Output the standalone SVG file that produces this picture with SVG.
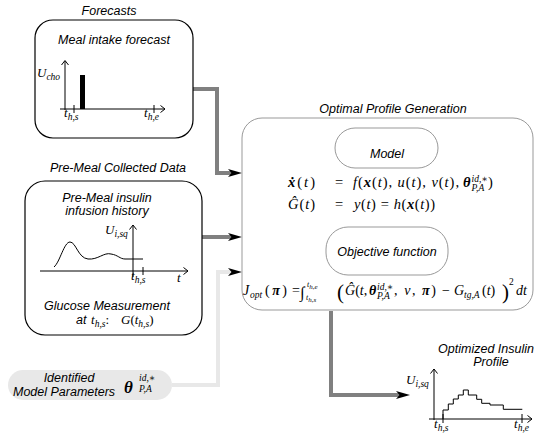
<svg xmlns="http://www.w3.org/2000/svg" width="548" height="441" viewBox="0 0 548 441">
<style>
.lb{font-family:"Liberation Sans",Arial,sans-serif;font-style:italic;font-size:12.5px;fill:#000}
.m{font-family:"Liberation Serif","DejaVu Serif",serif;font-style:italic;font-size:14.5px;fill:#000}
.j{font-size:14px}
.c{font-size:13px}
.r{font-style:normal}
.b{font-weight:bold}
.s{font-size:9.5px}
.ss{font-size:7px}
.box{fill:#fff;stroke:#000;stroke-width:1.2}
.gbox{fill:#fff;stroke:#999;stroke-width:1}
.ax{fill:none;stroke:#000;stroke-width:1}
.conn{fill:none;stroke:#808080;stroke-width:4}
</style>
<defs>
<marker id="ah" markerUnits="userSpaceOnUse" viewBox="0 0 14 8" refX="4" refY="4" markerWidth="14" markerHeight="8" orient="auto">
<path d="M0,0 L14,4 L0,8 L3.5,4 z" fill="#000"/>
</marker>
</defs>
<rect width="548" height="441" fill="#fff"/>

<g id="connectors">
<path class="conn" d="M193,89 H217 V173 H232" marker-end="url(#ah)"/>
<path class="conn" d="M202,237 H232" marker-end="url(#ah)"/>
<path d="M172,385 H218 V272 H232" fill="none" stroke="#e8e8e8" stroke-width="4" marker-end="url(#ah)"/>
<path class="conn" d="M331,311 V395 H400" marker-end="url(#ah)"/>
</g>

<g id="forecasts">
<text class="lb" x="109" y="15" text-anchor="middle">Forecasts</text>
<rect class="box" x="35" y="20" width="158" height="118" rx="18"/>
<text class="lb" x="114" y="44" text-anchor="middle">Meal intake forecast</text>
<path class="ax" d="M65,61 V110 M60,109 H165 M61.5,65 L65,60.5 L68.5,65 M160.5,105.5 L165,109 L160.5,112.5 M74,105 V113 M154,105 V113"/>
<rect x="80" y="75" width="5" height="34" fill="#000"/>
<text class="m c" x="37" y="77">U<tspan class="s" dy="2.5">cho</tspan></text>
<text class="m c" x="64" y="117">t<tspan class="s" dy="2.5">h,s</tspan></text>
<text class="m c" x="144" y="117">t<tspan class="s" dy="2.5">h,e</tspan></text>
</g>

<g id="premeal">
<text class="lb" x="118" y="172" text-anchor="middle">Pre-Meal Collected Data</text>
<rect class="box" x="25" y="181" width="177" height="154" rx="20"/>
<text class="lb" x="107" y="202" text-anchor="middle">Pre-Meal insulin</text>
<text class="lb" x="107" y="215" text-anchor="middle">infusion history</text>
<path class="ax" d="M133,225 V277 M40,271 H188 M129.5,229.5 L133,225 L136.5,229.5 M183.5,267.5 L188,271 L183.5,274.5 M143,267 V275"/>
<path class="ax" d="M54,267 C60,262 64,242 70,242 C76,242 78,258 88,259 C98,260 104,252 111,254 C118,255 120,259 125,259 L143,259"/>
<text class="m c" x="105" y="234">U<tspan class="s" dy="2.5">i,sq</tspan></text>
<text class="m c" x="131" y="280">t<tspan class="s" dy="2.5">h,s</tspan></text>
<text class="m c" x="177" y="282">t</text>
<text class="lb" x="107" y="310" text-anchor="middle">Glucose Measurement</text>
<text class="lb" x="76" y="324">at</text>
<text class="m c" x="91" y="324">t<tspan class="s" dy="2.5">h,s</tspan><tspan dy="-2.5" class="r">:</tspan></text>
<text class="m c" x="121" y="324">G<tspan class="r">(</tspan>t<tspan class="s" dy="2.5">h,s</tspan><tspan dy="-2.5" class="r">)</tspan></text>
</g>

<g id="params">
<rect x="8" y="370" width="164" height="30" rx="15" fill="#e8e8e8"/>
<text class="lb" x="69" y="382" text-anchor="middle">Identified</text>
<text class="lb" x="13" y="396">Model Parameters</text>
<text class="m b" x="124" y="393" style="font-size:17px">θ</text>
<text class="m s" x="139" y="381">id,∗</text>
<text class="m s" x="139" y="392">P,A</text>
</g>

<g id="optimal">
<text class="lb" x="393" y="113" text-anchor="middle">Optimal Profile Generation</text>
<rect class="gbox" x="242" y="118" width="291" height="192" rx="20"/>
</g>

<g id="model">
<rect class="gbox" x="335" y="128" width="103" height="40" rx="20" stroke="#777"/>
<text class="lb" x="387" y="158" text-anchor="middle">Model</text>
</g>

<g id="equations">
<text class="m" x="288" y="187" textLength="27"><tspan class="b">ẋ</tspan><tspan class="r">(</tspan>t<tspan class="r">)</tspan></text>
<text class="m r" x="335" y="187">=</text>
<text class="m" x="353" y="187" textLength="106" lengthAdjust="spacing">f<tspan class="r">(</tspan><tspan class="b">x</tspan><tspan class="r">(</tspan>t<tspan class="r">), </tspan>u<tspan class="r">(</tspan>t<tspan class="r">), </tspan>v<tspan class="r">(</tspan>t<tspan class="r">),</tspan></text>
<text class="m b" x="463" y="187">θ</text>
<text class="m s" x="471.5" y="181.5">id,∗</text>
<text class="m s" x="471.5" y="191">P,A</text>
<text class="m r" x="488" y="187">)</text>

<text class="m" x="288" y="209" textLength="27">Ĝ<tspan class="r">(</tspan>t<tspan class="r">)</tspan></text>
<text class="m r" x="335" y="209">=</text>
<text class="m" x="354" y="209" textLength="81" lengthAdjust="spacing">y<tspan class="r">(</tspan>t<tspan class="r">) = </tspan>h<tspan class="r">(</tspan><tspan class="b">x</tspan><tspan class="r">(</tspan>t<tspan class="r">))</tspan></text>
</g>

<g id="objective">
<rect class="gbox" x="326" y="227" width="122" height="48" rx="22" stroke="#777"/>
<text class="lb" x="387" y="256" text-anchor="middle">Objective function</text>
<text class="m j" x="243" y="295">J</text>
<text class="m s" x="250" y="298">opt</text>
<text class="m j" x="265" y="295" textLength="22"><tspan class="r">(</tspan><tspan class="b">π</tspan><tspan class="r">)</tspan></text>
<text class="m r j" x="292" y="295">=</text>
<text class="m r" x="300" y="298" style="font-size:16px">∫</text>
<text class="m" x="307" y="287" style="font-size:8px">t<tspan class="ss" dy="1.5">h,e</tspan></text>
<text class="m" x="306" y="300" style="font-size:8px">t<tspan class="ss" dy="1.5">h,s</tspan></text>
<text class="m r" x="337" y="299" style="font-size:21px">(</text>
<text class="m j" x="345" y="295">Ĝ<tspan class="r">(</tspan>t<tspan class="r">,</tspan></text>
<text class="m b j" x="369" y="295">θ</text>
<text class="m s" x="377" y="289.5">id,∗</text>
<text class="m s" x="377" y="299">P,A</text>
<text class="m j" x="394" y="295" textLength="42" lengthAdjust="spacing"><tspan class="r">, </tspan>v<tspan class="r">, </tspan><tspan class="b">π</tspan><tspan class="r">)</tspan></text>
<text class="m r j" x="442" y="295">−</text>
<text class="m j" x="454" y="295">G</text>
<text class="m s" x="464" y="298">tg,A</text>
<text class="m j" x="482" y="295"><tspan class="r">(</tspan>t<tspan class="r">)</tspan></text>
<text class="m r" x="502" y="299" style="font-size:21px">)</text>
<text class="m r s" x="509" y="285">2</text>
<text class="m j" x="516" y="295">dt</text>
</g>

<g id="output">
<text class="lb" x="486" y="353" text-anchor="middle">Optimized Insulin</text>
<text class="lb" x="491" y="366" text-anchor="middle">Profile</text>
<path d="M434,369 V420" fill="none" stroke="#555" stroke-width="1.5"/>
<path class="ax" d="M430.5,373.5 L434,369 L437.5,373.5 M429,419 H532 M527.5,415.5 L532,419 L527.5,422.5 M443,414 V423 M522,414 V423"/>
<path class="ax" d="M443,419 V410 H448.3 V404 H453.3 V399 H458.3 V395 H463.3 V390 H468.3 V395 H476.7 V399.3 H481.7 V403.3 H490 V405 H503.3 V409.3 H522.3"/>
<text class="m c" x="406" y="384">U<tspan class="s" dy="2.5">i,sq</tspan></text>
<text class="m c" x="434" y="428">t<tspan class="s" dy="2.5">h,s</tspan></text>
<text class="m c" x="514" y="428">t<tspan class="s" dy="2.5">h,e</tspan></text>
</g>
</svg>
